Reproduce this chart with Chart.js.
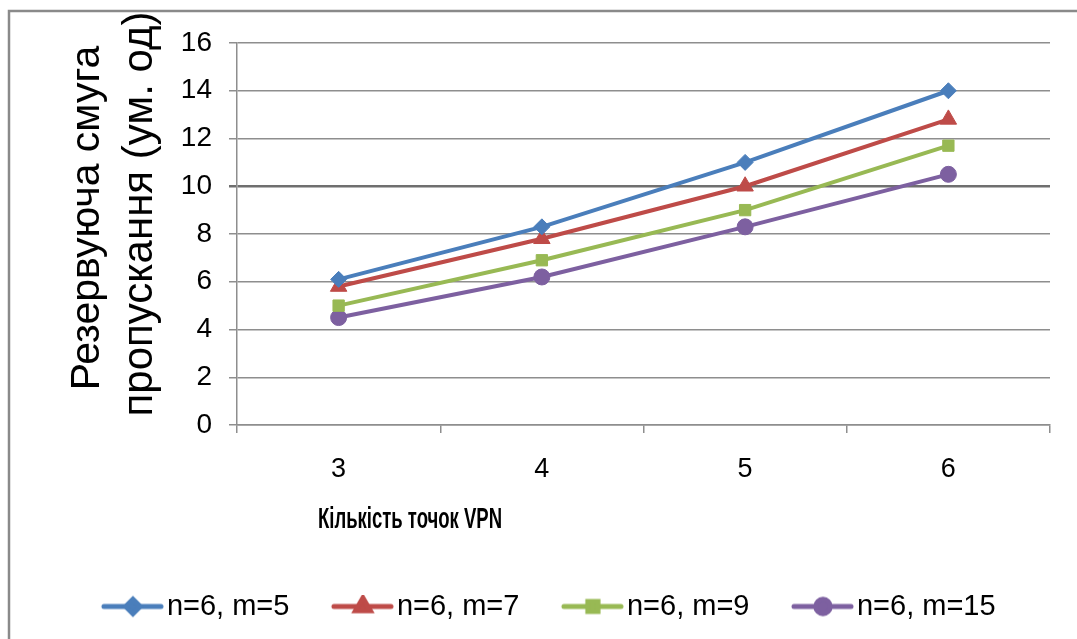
<!DOCTYPE html>
<html>
<head>
<meta charset="utf-8">
<script src="https://cdn.jsdelivr.net/npm/chart.js@4/dist/chart.umd.min.js"></script>
<style>
    body { margin: 0; background: #fff; }
    #wrap { width: 1077px; height: 639px; }
</style>
</head>
<body>
<div id="wrap"><canvas id="myChart" width="1077" height="639"></canvas></div>
<script>
// #region data
const categories = ['3', '4', '5', '6'];
const seriesNames = ['n=6, m=5', 'n=6, m=7', 'n=6, m=9', 'n=6, m=15'];
const m5 = [6.1, 8.3, 11.0, 14.0];
const m7 = [5.8, 7.8, 10.0, 12.8];
const m9 = [5.0, 6.9, 9.0, 11.7];
const m15 = [4.5, 6.2, 8.3, 10.5];
const yTicks = [0, 2, 4, 6, 8, 10, 12, 14, 16];
const yTitle = ['Резервуюча смуга', 'пропускання (ум. од)'];
const xTitle = 'Кількість точок VPN';
// #endregion data

const
    colors = ['#4a7ebb', '#be4b48', '#98b954', '#7d60a0'],
    styles = ['rectRot', 'triangle', 'rect', 'circle'],
    radii = [8, 9.5, 8, 8],
    gridColor = '#8e8e8e';

const FONT = '"Liberation Sans", Arial, sans-serif';

// legend icon: line with marker in the middle
function legendIcon(i) {
    const c = document.createElement('canvas');
    c.width = 85;
    c.height = 24;
    const g = c.getContext('2d');
    g.strokeStyle = colors[i];
    g.lineWidth = 5;
    g.lineCap = 'round';
    g.beginPath();
    g.moveTo(25, 12);
    g.lineTo(82, 12);
    g.stroke();
    g.fillStyle = colors[i];
    g.strokeStyle = colors[i];
    Chart.helpers.drawPoint(g, { pointStyle: styles[i], radius: radii[i] * 0.9, rotation: 0, borderWidth: 1 }, 54, 12);
    return c;
}

const extras = {
    id: 'extras',
    afterDraw(chart) {
        const ctx = chart.ctx;
        ctx.save();
        // outer frame
        ctx.strokeStyle = '#8a8a8a';
        ctx.lineWidth = 2.5;
        ctx.strokeRect(9, 11, 1200, 800);
        // y title
        ctx.fillStyle = '#000';
        ctx.textAlign = 'center';
        ctx.textBaseline = 'middle';
        [[88, 218, 41], [140, 214, 42]].forEach((p, k) => {
            ctx.save();
            ctx.font = p[2] + 'px ' + FONT;
            ctx.translate(p[0], p[1]);
            ctx.rotate(-Math.PI / 2);
            ctx.fillText(yTitle[k], 0, 0);
            ctx.restore();
        });
        // x title, squeezed like a narrow face
        ctx.save();
        ctx.font = 'bold 30px ' + FONT;
        ctx.textAlign = 'left';
        ctx.translate(318, 520);
        ctx.scale(184 / ctx.measureText(xTitle).width, 1);
        ctx.fillText(xTitle, 0, 0);
        ctx.restore();
        ctx.restore();
    }
};

const seriesValues = [m5, m7, m9, m15];

new Chart(document.getElementById('myChart').getContext('2d'), {
    type: 'line',
    data: {
        labels: categories,
        datasets: seriesValues.map((vals, i) => ({
            label: seriesNames[i],
            data: vals,
            borderColor: colors[i],
            backgroundColor: colors[i],
            borderWidth: 4,
            pointStyle: styles[i],
            pointRadius: radii[i],
            pointBorderWidth: 1,
            pointBorderColor: colors[i],
            pointBackgroundColor: colors[i],
            tension: 0
        }))
    },
    options: {
        responsive: false,
        animation: false,
        layout: { padding: { top: 43, left: 36, right: 27, bottom: 8 } },
        plugins: {
            tooltip: { enabled: false },
            legend: {
                position: 'bottom',
                labels: {
                    usePointStyle: true,
                    pointStyleWidth: 62,
                    padding: 31,
                    color: '#000',
                    font: { family: FONT, size: 29 },
                    generateLabels(chart) {
                        const items = Chart.defaults.plugins.legend.labels.generateLabels(chart);
                        items.forEach((it, i) => { it.pointStyle = legendIcon(i); });
                        return items;
                    }
                }
            }
        },
        scales: {
            x: {
                type: 'category',
                offset: true,
                grid: {
                    offset: true,
                    drawOnChartArea: false,
                    drawTicks: true,
                    tickLength: 8,
                    color: gridColor,
                    lineWidth: 1.5
                },
                border: { display: true, color: gridColor, width: 1.5 },
                ticks: {
                    color: '#000',
                    padding: 20,
                    font: { family: FONT, size: 27 }
                },
                afterFit(s) { s.height = 136; }
            },
            y: {
                min: 0,
                max: 16,
                afterBuildTicks(s) { s.ticks = yTicks.map(v => ({ value: v })); },
                grid: {
                    tickLength: 8,
                    color: (c) => (c.tick && c.tick.value === 10 ? '#6f6f6f' : gridColor),
                    lineWidth: (c) => (c.tick && c.tick.value === 10 ? 2.5 : 1.5)
                },
                border: { display: true, color: gridColor, width: 1.5 },
                ticks: {
                    color: '#000',
                    padding: 17,
                    font: { family: FONT, size: 28 }
                },
                afterFit(s) { s.width = 201; }
            }
        }
    },
    plugins: [extras]
});
</script>
</body>
</html>
